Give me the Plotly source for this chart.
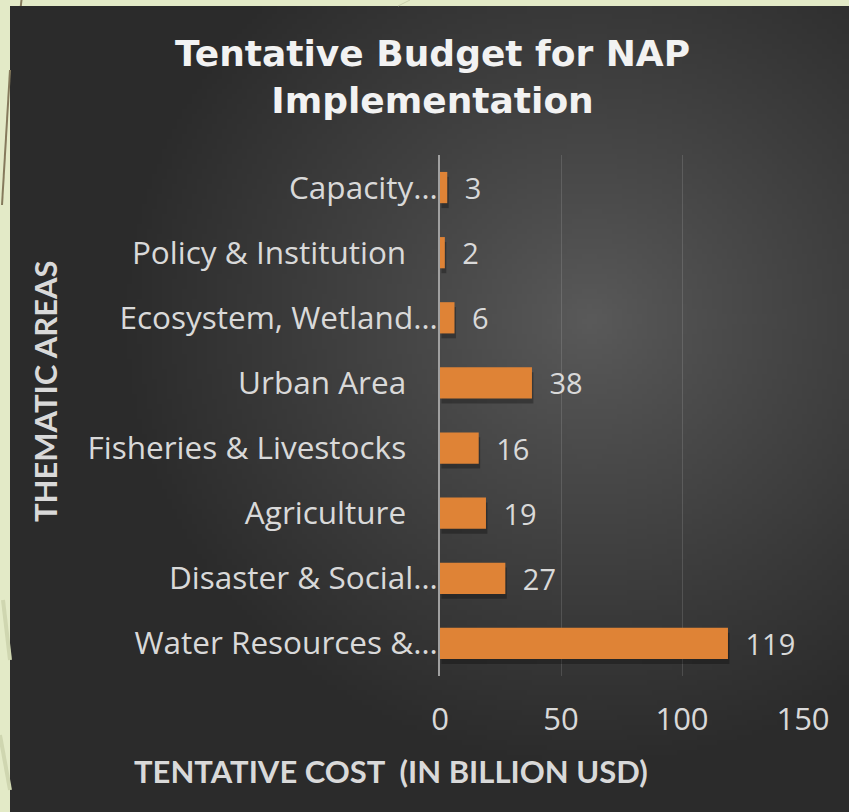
import base64, struct, zlib, math
import plotly.graph_objects as go

# ---------------- data ----------------
categories = [
    "Water Resources &…",
    "Disaster & Social…",
    "Agriculture",
    "Fisheries & Livestocks",
    "Urban Area",
    "Ecosystem, Wetland…",
    "Policy & Institution",
    "Capacity…",
]
values = [119, 27, 19, 16, 38, 6, 2, 3]
x_ticks = [0, 50, 100, 150]

title_text = "Tentative Budget for NAP<br>Implementation"
x_title = "TENTATIVE COST  (IN BILLION USD)"
y_title = "THEMATIC AREAS"

W, H = 849, 812
PL, PR, PT, PB = 440, 803, 155, 676  # plot area in pixels


def px(x, y):
    return (x - PL) / (PR - PL), (PB - y) / (PB - PT)


# ---------------- background gradient image ----------------
def gradient_png(w, h, rx0, ry0, rw, rh, cx, cy, R, c0, c1):
    raw = bytearray()
    for j in range(h):
        raw.append(0)
        yy = ry0 + (j + 0.5) * rh / h
        for i in range(w):
            xx = rx0 + (i + 0.5) * rw / w
            d = math.hypot((xx - cx), (yy - cy) * 1.05)
            t = min(d / R, 1.0)
            t = t ** 0.9
            v = int(round(c0 + (c1 - c0) * t))
            raw += bytes((v, v, v))

    def chunk(tag, data):
        c = struct.pack(">I", len(data)) + tag + data
        return c + struct.pack(">I", zlib.crc32(tag + data) & 0xFFFFFFFF)

    png = b"\x89PNG\r\n\x1a\n"
    png += chunk(b"IHDR", struct.pack(">IIBBBBB", w, h, 8, 2, 0, 0, 0))
    png += chunk(b"IDAT", zlib.compress(bytes(raw), 9))
    png += chunk(b"IEND", b"")
    return "data:image/png;base64," + base64.b64encode(png).decode()


RX0, RY0, RW, RH = 10, 6, W - 10, H - 6
bg_src = gradient_png(168, 161, RX0, RY0, RW, RH, 590, 320, 470, 0x5A, 0x2B)

# ---------------- labels ----------------
tick_text = [c if c.endswith("…") else c + "\u2003" for c in categories]

BAR_W = 0.48
fig = go.Figure()
# soft drop shadow under each bar
fig.add_trace(go.Bar(
    x=values, y=categories, orientation="h",
    base=0.6, width=BAR_W, offset=-BAR_W / 2 - 0.075,
    marker=dict(color="rgba(0,0,0,0.28)", line=dict(width=0)),
    hoverinfo="skip", showlegend=False,
))
fig.add_trace(go.Bar(
    x=values,
    y=categories,
    orientation="h",
    width=BAR_W,
    marker=dict(color="#df8336", line=dict(width=0)),
    text=values,
    texttemplate="\u2002%{x}",
    textposition="outside",
    constraintext="none",
    textfont=dict(family="Open Sans", size=29, color="#d9d9d9"),
    cliponaxis=False,
    hoverinfo="skip",
))

ix, iy = px(RX0, RY0)
images = [dict(
    source=bg_src, xref="paper", yref="paper",
    x=ix, y=iy, sizex=RW / (PR - PL), sizey=RH / (PB - PT),
    xanchor="left", yanchor="top", sizing="stretch", layer="below",
)]

shapes = []
for (xa, ya, xb, yb, col, wd) in [
    (21.5, 0, 20.8, 6, "#857a5c", 2),
    (10, 70, 2, 205, "#857a5c", 2),
    (3, 600, 10, 660, "#cfd6b0", 4),
    (0, 735, 10, 790, "#cfd6b0", 4),
    (398, 6, 410, 0, "#c9cfad", 1),
]:
    a = px(xa, ya)
    b = px(xb, yb)
    shapes.append(dict(type="line", xref="paper", yref="paper",
                       x0=a[0], y0=a[1], x1=b[0], y1=b[1],
                       line=dict(color=col, width=wd), layer="below"))

annotations = []
tx, ty = px(432, 77)
annotations.append(dict(text="<b>" + title_text + "</b>", x=tx, y=ty,
                        xref="paper", yref="paper", showarrow=False,
                        font=dict(family="DejaVu Sans", size=36, color="#f2f2f2"),
                        xanchor="center", yanchor="middle", align="center"))
axx, axy = px(391, 771)
annotations.append(dict(text="<b>" + x_title + "</b>", x=axx, y=axy,
                        xref="paper", yref="paper", showarrow=False,
                        font=dict(family="Lato", size=31, color="#d9d9d9"),
                        xanchor="center", yanchor="middle"))
ayx, ayy = px(45, 391)
annotations.append(dict(text="<b>" + y_title + "</b>", x=ayx, y=ayy, textangle=-90,
                        xref="paper", yref="paper", showarrow=False,
                        font=dict(family="Lato", size=31, color="#d9d9d9"),
                        xanchor="center", yanchor="middle"))

fig.update_layout(
    width=W, height=H,
    margin=dict(l=PL, r=W - PR, t=PT, b=H - PB, autoexpand=False),
    paper_bgcolor="#e3eac7",
    plot_bgcolor="rgba(0,0,0,0)",
    showlegend=False,
    images=images,
    shapes=shapes,
    annotations=annotations,
    barmode="overlay",
    xaxis=dict(
        range=[0, 150], tickmode="array", tickvals=x_ticks,
        ticktext=[str(v) for v in x_ticks],
        showgrid=True, gridcolor="rgba(255,255,255,0.13)", gridwidth=1,
        zeroline=False, showline=False, ticks="",
        tickfont=dict(family="Open Sans", size=31, color="#d9d9d9"),
        ticklabelstandoff=22,
        fixedrange=True,
    ),
    yaxis=dict(
        categoryorder="array", categoryarray=categories,
        tickmode="array", tickvals=categories, ticktext=tick_text,
        showgrid=False, zeroline=False,
        showline=True, linecolor="#a0a0a0", linewidth=2,
        ticks="", ticklabelstandoff=-6,
        tickfont=dict(family="Open Sans", size=31.5, color="#d9d9d9"),
        fixedrange=True,
    ),
)

fig.write_html("out.html")
